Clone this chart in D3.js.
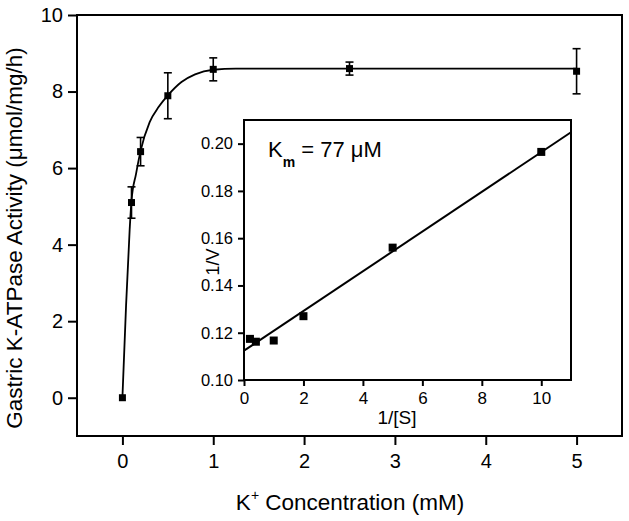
<!DOCTYPE html>
<html>
<head>
<meta charset="utf-8">
<script src="https://cdn.jsdelivr.net/npm/d3@7"></script>
<style>
  html, body { margin: 0; padding: 0; background: #fff; }
  svg { display: block; }
  text { font-family: Arial, "Liberation Sans", sans-serif; fill: #000; }
</style>
</head>
<body>
<svg id="chart" width="629" height="521"></svg>
<script>
// ---- Main chart data ----
const kConc = [0, 0.1, 0.2, 0.5, 1, 2.5, 5];
const activity = [0, 5.1, 6.43, 7.89, 8.58, 8.6, 8.53];
const activityErr = [0, 0.41, 0.37, 0.6, 0.3, 0.17, 0.59];
// fitted curve
const curveX = [0, 0.04, 0.08, 0.1, 0.15, 0.2, 0.3, 0.4, 0.5, 0.65, 0.8, 1.0, 1.25, 1.5, 2, 3, 4, 5];
const curveY = [0, 2.4, 4.4, 5.15, 5.85, 6.45, 7.2, 7.6, 7.9, 8.25, 8.45, 8.57, 8.6, 8.6, 8.6, 8.6, 8.6, 8.6];
const mainXTicks = [0, 1, 2, 3, 4, 5];
const mainYTicks = [0, 2, 4, 6, 8, 10];

// ---- Inset (Lineweaver-Burk) data ----
const invS = [0.2, 0.4, 1, 2, 5, 10];
const invV = [0.1174, 0.1162, 0.1167, 0.127, 0.156, 0.1965];
const fitX = [0, 11];
const fitY = [0.1124, 0.2048];
const insetXTicks = [0, 2, 4, 6, 8, 10];
const insetYTicks = [0.10, 0.12, 0.14, 0.16, 0.18, 0.20];

const FONT = "Arial, 'Liberation Sans', sans-serif";
const svg = d3.select("#chart");

// ---------- Main plot ----------
const x = d3.scaleLinear().domain([-0.5, 5.5]).range([77, 622]);
const y = d3.scaleLinear().domain([-1, 10]).range([436, 15]);

const gX = svg.append("g").attr("transform", "translate(0,436)")
  .call(d3.axisBottom(x).tickValues(mainXTicks).tickFormat(d3.format("d"))
    .tickSize(9).tickSizeOuter(0).tickPadding(9));
gX.select(".domain").remove();
gX.selectAll("line").attr("stroke", "#000").attr("stroke-width", 2);
gX.selectAll("text").attr("font-size", 20).attr("font-family", FONT);

const gY = svg.append("g").attr("transform", "translate(77,0)")
  .call(d3.axisLeft(y).tickValues(mainYTicks).tickFormat(d3.format("d"))
    .tickSize(9).tickSizeOuter(0).tickPadding(5));
gY.select(".domain").remove();
gY.selectAll("line").attr("stroke", "#000").attr("stroke-width", 2);
gY.selectAll("text").attr("font-size", 20).attr("font-family", FONT);

svg.append("rect").attr("x", 77).attr("y", 15).attr("width", 622 - 77).attr("height", 436 - 15)
  .attr("fill", "none").attr("stroke", "#000").attr("stroke-width", 2);

// fitted curve
const curvePts = curveX.map((d, i) => [d, curveY[i]]);
svg.append("path").datum(curvePts)
  .attr("fill", "none").attr("stroke", "#000").attr("stroke-width", 1.8)
  .attr("d", d3.line().x(d => x(d[0])).y(d => y(d[1])).curve(d3.curveMonotoneX));

// error bars
const mainPts = kConc.map((d, i) => ({ x: d, y: activity[i], e: activityErr[i] }));
const eb = svg.append("g").attr("stroke", "#000").attr("stroke-width", 1.6);
mainPts.filter(d => d.e > 0).forEach(d => {
  const cx = x(d.x);
  eb.append("line").attr("x1", cx).attr("x2", cx).attr("y1", y(d.y + d.e)).attr("y2", y(d.y - d.e));
  eb.append("line").attr("x1", cx - 4).attr("x2", cx + 4).attr("y1", y(d.y + d.e)).attr("y2", y(d.y + d.e));
  eb.append("line").attr("x1", cx - 4).attr("x2", cx + 4).attr("y1", y(d.y - d.e)).attr("y2", y(d.y - d.e));
});
// markers
svg.append("g").selectAll("rect").data(mainPts).join("rect")
  .attr("x", d => x(d.x) - 3.5).attr("y", d => y(d.y) - 3.5)
  .attr("width", 7).attr("height", 7).attr("fill", "#000");

// axis titles
svg.append("text").attr("transform", "translate(22,238) rotate(-90)")
  .attr("text-anchor", "middle").attr("font-size", 22.5)
  .text("Gastric K-ATPase Activity (\u03bcmol/mg/h)");

const xt = svg.append("text").attr("x", 350).attr("y", 510).attr("text-anchor", "middle").attr("font-size", 22.5);
xt.append("tspan").text("K");
xt.append("tspan").attr("font-size", 14).attr("dy", -10).text("+");
xt.append("tspan").attr("dy", 10).text(" Concentration (mM)");

// ---------- Inset ----------
const xi = d3.scaleLinear().domain([0, 11]).range([244, 571]);
const yi = d3.scaleLinear().domain([0.10, 0.21]).range([380, 120]);

svg.append("rect").attr("x", 244).attr("y", 120).attr("width", 571 - 244).attr("height", 380 - 120)
  .attr("fill", "#fff").attr("stroke", "#000").attr("stroke-width", 2);

const giX = svg.append("g").attr("transform", "translate(0,380)")
  .call(d3.axisBottom(xi).tickValues(insetXTicks).tickFormat(d3.format("d"))
    .tickSize(6).tickSizeOuter(0).tickPadding(6));
giX.select(".domain").remove();
giX.selectAll("line").attr("stroke", "#000").attr("stroke-width", 2);
giX.selectAll("text").attr("font-size", 17).attr("font-family", FONT);

const giY = svg.append("g").attr("transform", "translate(244,0)")
  .call(d3.axisLeft(yi).tickValues(insetYTicks).tickFormat(d3.format(".2f"))
    .tickSize(6).tickSizeOuter(0).tickPadding(5));
giY.select(".domain").remove();
giY.selectAll("line").attr("stroke", "#000").attr("stroke-width", 2);
giY.selectAll("text").attr("font-size", 16.5).attr("font-family", FONT);

// regression line
const fitPts = fitX.map((d, i) => [d, fitY[i]]);
svg.append("path").datum(fitPts)
  .attr("fill", "none").attr("stroke", "#000").attr("stroke-width", 2)
  .attr("d", d3.line().x(d => xi(d[0])).y(d => yi(d[1])));

// inset markers
const insetPts = invS.map((d, i) => ({ x: d, y: invV[i] }));
svg.append("g").selectAll("rect").data(insetPts).join("rect")
  .attr("x", d => xi(d.x) - 4).attr("y", d => yi(d.y) - 4)
  .attr("width", 8).attr("height", 8).attr("fill", "#000");

// inset titles
svg.append("text").attr("transform", "translate(219,262) rotate(-90)")
  .attr("text-anchor", "middle").attr("font-size", 18).text("1/V");
svg.append("text").attr("x", 397).attr("y", 424).attr("text-anchor", "middle")
  .attr("font-size", 19).text("1/[S]");

const km = svg.append("text").attr("x", 268).attr("y", 157).attr("font-size", 22);
km.append("tspan").text("K");
km.append("tspan").attr("font-size", 14).attr("font-weight", "bold").attr("dy", 10).text("m");
km.append("tspan").attr("dy", -10).text(" = 77 \u03bcM");
</script>
</body>
</html>
